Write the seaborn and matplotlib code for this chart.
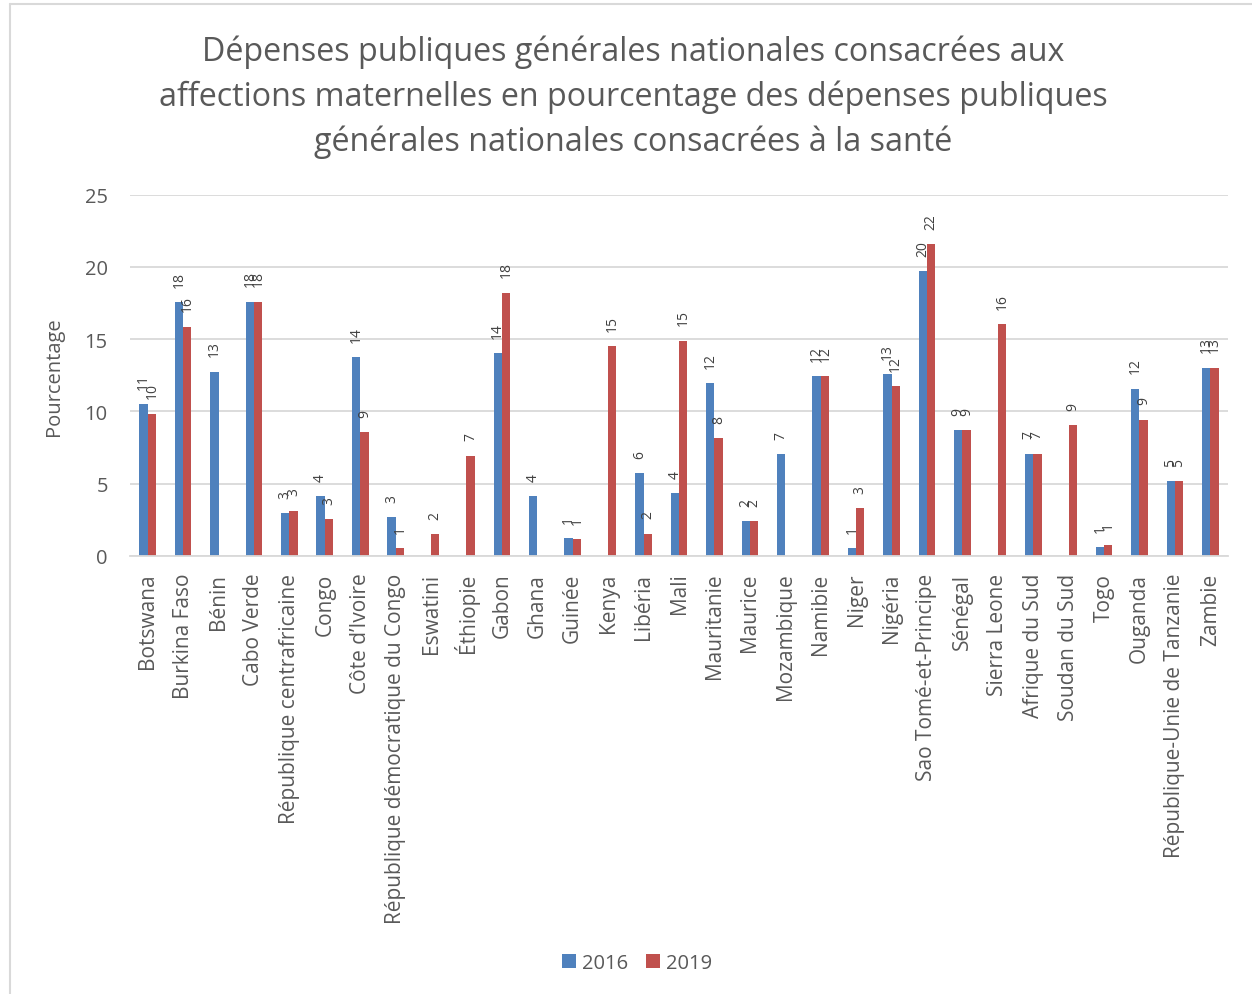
import numpy as np
import pandas as pd
import matplotlib
matplotlib.use("Agg")
import matplotlib.pyplot as plt
from matplotlib.lines import Line2D
import seaborn as sns

# Countries (x axis) and the share of maternal-condition spending per year
countries = [
    "Botswana", "Burkina Faso", "Bénin", "Cabo Verde", "République centrafricaine",
    "Congo", "Côte d’Ivoire", "République démocratique du Congo", "Eswatini", "Éthiopie",
    "Gabon", "Ghana", "Guinée", "Kenya", "Libéria", "Mali", "Mauritanie", "Maurice",
    "Mozambique", "Namibie", "Niger", "Nigéria", "Sao Tomé-et-Principe", "Sénégal",
    "Sierra Leone", "Afrique du Sud", "Soudan du Sud", "Togo", "Ouganda",
    "République-Unie de Tanzanie", "Zambie",
]
values_2016 = [
    10.52, 17.55, 12.75, 17.6, 2.97, 4.12, 13.74, 2.67, np.nan, np.nan,
    14.04, 4.12, 1.24, np.nan, 5.73, 4.35, 11.97, 2.4, 7.04, 12.45,
    0.55, 12.57, 19.7, 8.72, np.nan, 7.09, np.nan, 0.6, 11.58, 5.2, 13.03,
]
values_2019 = [
    9.85, 15.88, np.nan, 17.6, 3.13, 2.55, 8.55, 0.52, 1.52, 6.95,
    18.23, np.nan, 1.15, 14.52, 1.54, 14.9, 8.15, 2.4, np.nan, 12.45,
    3.29, 11.74, 21.6, 8.72, 16.02, 7.09, 9.07, 0.78, 9.44, 5.2, 13.03,
]
years = ["2016", "2019"]
year_colors = ["#4F81BD", "#C0504D"]
y_ticks = [0, 5, 10, 15, 20, 25]

title_lines = [
    "Dépenses publiques générales nationales consacrées aux",
    "affections maternelles en pourcentage des dépenses publiques",
    "générales nationales consacrées à la santé",
]
y_label = "Pourcentage"

df = pd.DataFrame({
    "Pays": countries * 2,
    "Année": [years[0]] * len(countries) + [years[1]] * len(countries),
    "Valeur": values_2016 + values_2019,
}).dropna()

sns.set_theme(style="white")
plt.rcParams["font.family"] = ["Open Sans", "DejaVu Sans"]
text_color = "#595959"
grid_color = "#D9D9D9"

fig = plt.figure(figsize=(12.52, 9.95), dpi=100)
ax = fig.add_axes([130 / 1252, 1 - 557 / 995, 1098 / 1252, (557 - 195.7) / 995])

sns.barplot(
    data=df, x="Pays", y="Valeur", hue="Année",
    order=countries, hue_order=years, palette=year_colors,
    width=0.47, linewidth=0, saturation=1, errorbar=None, ax=ax, legend=True,
)

for cont in ax.containers:
    ax.bar_label(cont, fmt="{:.0f}", rotation=90, padding=11,
                 fontsize=10, color="#404040")

ax.set_xlim(-0.5, len(countries) - 0.5)
ax.set_ylim(0, 25)
ax.set_yticks(y_ticks)
ax.set_yticklabels([str(t) for t in y_ticks])
ax.yaxis.grid(True, color=grid_color, linewidth=1.3)
ax.set_axisbelow(True)
for side in ["left", "right", "top"]:
    ax.spines[side].set_visible(False)
ax.spines["bottom"].set_color(grid_color)
ax.spines["bottom"].set_linewidth(1.3)

ax.tick_params(axis="y", length=0, pad=16, labelsize=14.5, labelcolor=text_color)
ax.tick_params(axis="x", length=0, pad=12, labelsize=15, labelcolor=text_color)
plt.setp(ax.get_xticklabels(), rotation=90, ha="center", va="top")

ax.set_xlabel("")
ax.set_ylabel(y_label, fontsize=14.5, color=text_color)
ax.yaxis.set_label_coords(-0.060, 0.5)

# Legend below the axis labels
handles, labels = ax.get_legend_handles_labels()
ax.get_legend().remove()
fig.legend(handles, labels, loc="center", bbox_to_anchor=(637 / 1252, 1 - 964 / 995),
           ncol=2, frameon=False, fontsize=14.5, labelcolor=text_color,
           handlelength=0.7, handleheight=0.7, handletextpad=0.3, columnspacing=0.9)

# Title, one line at a time
for i, line in enumerate(title_lines):
    fig.text(633 / 1252, 1 - (52 + 45 * i) / 995, line, ha="center", va="center",
             fontsize=23.2, color=text_color)

# Chart frame
fig.add_artist(Line2D([9.5 / 1252, 9.5 / 1252], [0, 1 - 4.5 / 995],
                      transform=fig.transFigure, color=grid_color, linewidth=1.5))
fig.add_artist(Line2D([9.5 / 1252, 1], [1 - 4.5 / 995, 1 - 4.5 / 995],
                      transform=fig.transFigure, color=grid_color, linewidth=1.5))

fig.savefig("out.png", dpi=100, facecolor="white")
